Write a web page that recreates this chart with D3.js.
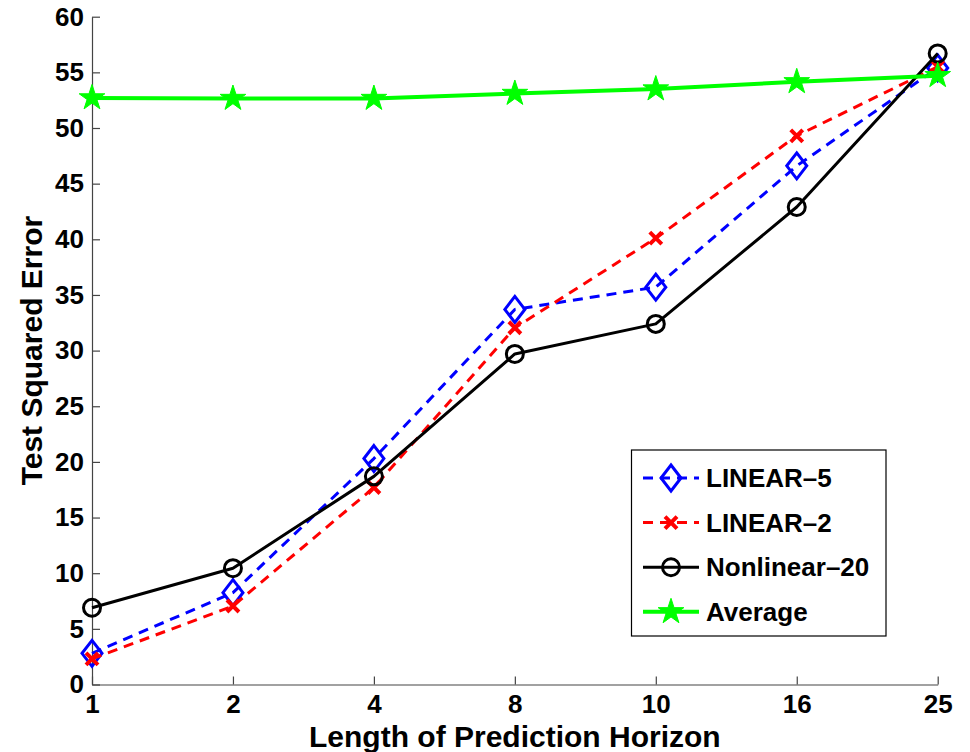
<!DOCTYPE html>
<html>
<head>
<meta charset="utf-8">
<script src="https://cdn.jsdelivr.net/npm/d3@7"></script>
<style>
  html, body { margin: 0; padding: 0; background: #fff; }
  svg { display: block; }
  text { font-family: "Liberation Sans", Arial, Helvetica, sans-serif; font-weight: bold; fill: #000; }
</style>
</head>
<body>
<script>
// ---- data ----
const horizons = ["1", "2", "4", "8", "10", "16", "25"];
const linear5 = [2.8, 8.25, 20.3, 33.7, 35.7, 46.6, 55.4];
const linear2 = [2.3, 7.05, 17.7, 32.05, 40.1, 49.3, 55.5];
const nonlinear20 = [6.9, 10.45, 18.7, 29.7, 32.4, 42.9, 56.7];
const average = [52.7, 52.65, 52.65, 53.1, 53.5, 54.15, 54.7];
const yTicks = [0, 5, 10, 15, 20, 25, 30, 35, 40, 45, 50, 55, 60];
const seriesNames = ["LINEAR\u20135", "LINEAR\u20132", "Nonlinear\u201320", "Average"];

(function () {
const W = 970, H = 752;
const mLeft = 92, mRight = 937.7, mTop = 16.7, mBottom = 684.5;

const svg = d3.select("body").append("svg").attr("width", W).attr("height", H);

const x = d3.scalePoint().domain(horizons).range([mLeft, mRight]);
const y = d3.scaleLinear().domain([0, 60]).range([mBottom, mTop]);

// axes
const axisColor = "#444";
const gx = svg.append("g").attr("transform", `translate(0,${mBottom})`)
  .call(d3.axisBottom(x).tickSizeInner(-8).tickSizeOuter(0).tickPadding(10));
const gy = svg.append("g").attr("transform", `translate(${mLeft},0)`)
  .call(d3.axisLeft(y).tickValues(yTicks).tickSizeInner(-8).tickSizeOuter(0).tickPadding(8));
[gx, gy].forEach(g => {
  g.select(".domain").attr("stroke", axisColor).attr("stroke-width", 1.2);
  g.selectAll(".tick line").attr("stroke", axisColor).attr("stroke-width", 1.2);
  g.selectAll(".tick text").style("font-size", "26px").style("font-family", "'Liberation Sans', Arial, sans-serif").style("font-weight", "bold").attr("fill", "#000");
});

// axis titles
svg.append("text").attr("x", (mLeft + mRight) / 2).attr("y", 747)
  .attr("text-anchor", "middle").style("font-size", "30px")
  .text("Length of Prediction Horizon");
svg.append("text").attr("transform", `translate(42,${(mTop + mBottom) / 2}) rotate(-90)`)
  .attr("text-anchor", "middle").style("font-size", "30px")
  .text("Test Squared Error");

// marker drawing
function starPath(R) {
  const r = R * 0.382;
  const pts = [];
  for (let i = 0; i < 10; i++) {
    const a = -Math.PI / 2 + i * Math.PI / 5;
    const rad = i % 2 === 0 ? R : r;
    pts.push([rad * Math.cos(a), rad * Math.sin(a)]);
  }
  return "M" + pts.map(p => p.join(",")).join("L") + "Z";
}
function drawMarker(g, type, color) {
  if (type === "diamond") {
    g.append("path").attr("d", "M0,-13L10,0L0,13L-10,0Z")
      .attr("fill", "none").attr("stroke", color).attr("stroke-width", 3);
  } else if (type === "x") {
    g.append("path").attr("d", "M-6,-6L6,6M-6,6L6,-6")
      .attr("fill", "none").attr("stroke", color).attr("stroke-width", 4);
  } else if (type === "circle") {
    g.append("circle").attr("r", 8.5)
      .attr("fill", "none").attr("stroke", color).attr("stroke-width", 3);
  } else if (type === "star") {
    g.append("path").attr("d", starPath(13.5))
      .attr("fill", color).attr("stroke", color).attr("stroke-width", 1);
  }
}

const series = [
  { name: seriesNames[0], values: linear5, color: "#0000ff", dash: "10,7", width: 3, marker: "diamond" },
  { name: seriesNames[1], values: linear2, color: "#ff0000", dash: "10,7", width: 3, marker: "x" },
  { name: seriesNames[2], values: nonlinear20, color: "#000000", dash: null, width: 3, marker: "circle" },
  { name: seriesNames[3], values: average, color: "#00ff00", dash: null, width: 4, marker: "star" }
];

const line = d3.line().x((d, i) => x(horizons[i])).y(d => y(d));

series.forEach(s => {
  const g = svg.append("g");
  g.append("path").datum(s.values).attr("d", line)
    .attr("fill", "none").attr("stroke", s.color).attr("stroke-width", s.width)
    .attr("stroke-dasharray", s.dash).attr("stroke-linejoin", "round");
  s.values.forEach((v, i) => {
    const m = g.append("g").attr("transform", `translate(${x(horizons[i])},${y(v)})`);
    drawMarker(m, s.marker, s.color);
  });
});

// legend
const lg = svg.append("g");
lg.append("rect").attr("x", 631.5).attr("y", 450).attr("width", 254.5).attr("height", 186)
  .attr("fill", "#fff").attr("stroke", "#000").attr("stroke-width", 1.2);
series.forEach((s, i) => {
  const cy = 478 + i * 44.6;
  lg.append("line").attr("x1", 643).attr("x2", 699).attr("y1", cy).attr("y2", cy)
    .attr("stroke", s.color).attr("stroke-width", s.width).attr("stroke-dasharray", s.dash);
  const m = lg.append("g").attr("transform", `translate(671,${cy})`);
  drawMarker(m, s.marker, s.color);
  lg.append("text").attr("x", 706).attr("y", cy + 9).style("font-size", "26px").text(s.name);
});
})();
</script>
</body>
</html>
